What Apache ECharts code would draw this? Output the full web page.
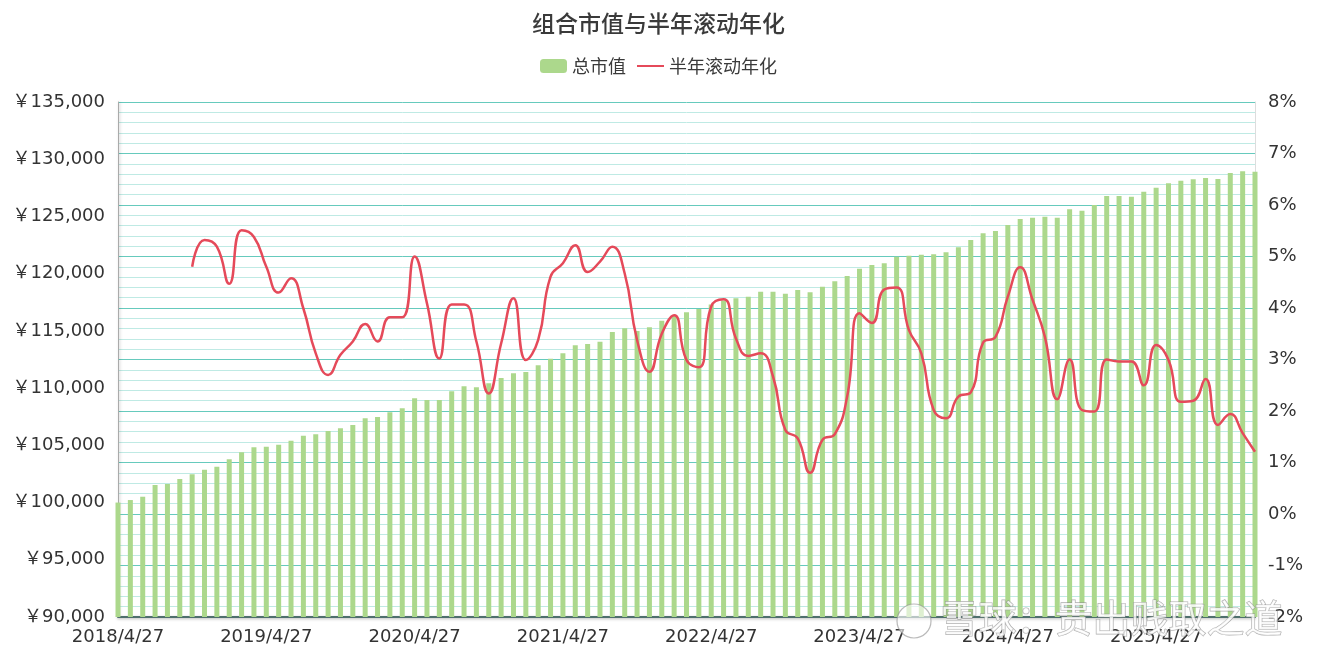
<!DOCTYPE html>
<html>
<head>
<meta charset="utf-8">
<script src="https://cdn.jsdelivr.net/npm/echarts@6/dist/echarts.min.js"></script>
<style>html,body{margin:0;padding:0;background:#fff;}#c{width:1317px;height:664px;}</style>
</head>
<body>
<div id="c"></div>
<script>
const categories = [
"2018/4/27","2018/5/27","2018/6/27","2018/7/27","2018/8/27","2018/9/27","2018/10/27","2018/11/27","2018/12/27",
"2019/1/27","2019/2/27","2019/3/27","2019/4/27","2019/5/27","2019/6/27","2019/7/27","2019/8/27","2019/9/27","2019/10/27","2019/11/27","2019/12/27",
"2020/1/27","2020/2/27","2020/3/27","2020/4/27","2020/5/27","2020/6/27","2020/7/27","2020/8/27","2020/9/27","2020/10/27","2020/11/27","2020/12/27",
"2021/1/27","2021/2/27","2021/3/27","2021/4/27","2021/5/27","2021/6/27","2021/7/27","2021/8/27","2021/9/27","2021/10/27","2021/11/27","2021/12/27",
"2022/1/27","2022/2/27","2022/3/27","2022/4/27","2022/5/27","2022/6/27","2022/7/27","2022/8/27","2022/9/27","2022/10/27","2022/11/27","2022/12/27",
"2023/1/27","2023/2/27","2023/3/27","2023/4/27","2023/5/27","2023/6/27","2023/7/27","2023/8/27","2023/9/27","2023/10/27","2023/11/27","2023/12/27",
"2024/1/27","2024/2/27","2024/3/27","2024/4/27","2024/5/27","2024/6/27","2024/7/27","2024/8/27","2024/9/27","2024/10/27","2024/11/27","2024/12/27",
"2025/1/27","2025/2/27","2025/3/27","2025/4/27","2025/5/27","2025/6/27","2025/7/27","2025/8/27","2025/9/27","2025/10/27","2025/11/27","2025/12/27"
];
const totalValue = [
100000,100220,100510,101530,101620,102060,102470,102870,103130,
103780,104390,104830,104880,105060,105400,105840,105970,106250,106490,106780,107360,
107480,107890,108240,109110,108960,108960,109720,110160,110070,110420,110880,111290,
111410,111990,112570,113040,113740,113860,114060,114900,115230,114990,115310,115890,
116300,116630,116910,117300,117650,117850,117990,118430,118430,118250,118570,118370,
118860,119330,119800,120440,120760,120910,121480,121570,121660,121690,121870,122310,
122940,123530,123730,124250,124780,124890,124980,124890,125620,125500,126000,126790,
126790,126730,127160,127510,127900,128120,128250,128360,128270,128800,128950,128910
];
const rollingAnnual = [
null,null,null,null,null,null,4.80,5.32,5.19,
4.47,5.51,5.38,4.80,4.30,4.58,3.99,3.12,2.70,3.09,3.35,3.69,
3.35,3.82,3.82,5.00,4.09,3.02,4.07,4.07,3.35,2.34,3.31,4.19,
2.99,3.38,4.61,4.87,5.22,4.70,4.90,5.19,4.67,3.38,2.76,3.50,
3.86,2.99,2.85,4.03,4.17,3.41,3.07,3.12,2.67,1.63,1.47,0.80,
1.44,1.55,2.28,3.90,3.71,4.36,4.40,3.57,3.12,2.02,1.86,2.28,
2.36,3.33,3.44,4.22,4.79,4.16,3.44,2.23,3.00,2.02,1.99,3.00,
2.96,2.96,2.50,3.28,2.99,2.18,2.20,2.62,1.73,1.94,1.57,1.21
];
const seriesNames = ["总市值","半年滚动年化"];
const titleText = "组合市值与半年滚动年化";
const watermarkText = "雪球：贵出贱取之道";

const numFont = "'DejaVu Sans', 'Noto Sans CJK SC', sans-serif";
const cjkFont = "'Noto Sans CJK SC', sans-serif";

const chart = echarts.init(document.getElementById('c'), null, {renderer:'canvas'});
chart.setOption({
  animation:false,
  backgroundColor:'#fff',
  title:{
    text:titleText, left:'center', top:7,
    textStyle:{fontFamily:cjkFont, fontSize:23, fontWeight:500, color:'#3a3a3a'}
  },
  legend:{
    top:52, left:'center', itemWidth:27, itemHeight:14, itemGap:10,
    textStyle:{fontFamily:cjkFont, fontSize:18, color:'#3a3a3a'},
    data:[
      {name:seriesNames[0]},
      {name:seriesNames[1], itemStyle:{opacity:0, color:'transparent', borderWidth:0}}
    ]
  },
  grid:{left:118, right:62, top:102, bottom:47, containLabel:false},
  xAxis:{
    type:'category', data:categories, boundaryGap:false,
    axisLine:{onZero:false, lineStyle:{color:'#4f6f6d', width:2, shadowColor:'rgba(0,0,0,0.3)', shadowBlur:3, shadowOffsetY:1}},
    axisTick:{show:false},
    axisLabel:{interval:11, fontFamily:numFont, fontSize:18, color:'#333', margin:11},
    splitLine:{show:false}
  },
  yAxis:[
    {
      type:'value', min:90000, max:135000, interval:5000, position:'left',
      axisLine:{show:true, lineStyle:{color:'#aaa', width:1, shadowColor:'rgba(0,0,0,0.25)', shadowBlur:3, shadowOffsetX:1}},
      axisTick:{show:false},
      axisLabel:{fontFamily:numFont, fontSize:18, color:'#333', margin:13,
        formatter:function(v){return '￥' + v.toLocaleString('en-US');}},
      splitLine:{show:false}
    },
    {
      type:'value', min:-2, max:8, interval:1, position:'right',
      axisLine:{show:true, lineStyle:{color:'#ddd', width:1}},
      axisTick:{show:false},
      axisLabel:{fontFamily:numFont, fontSize:18, color:'#333', margin:13, formatter:'{value}%'},
      splitLine:{show:true, lineStyle:{color:'#66cabd', width:1}},
      minorTick:{show:false, splitNumber:5},
      minorSplitLine:{show:true, lineStyle:{color:'#bfeae4', width:1}}
    }
  ],
  series:[
    {
      name:seriesNames[0], type:'bar', data:totalValue, yAxisIndex:0,
      barWidth:5, itemStyle:{color:'#acd88c'}, z:2
    },
    {
      name:seriesNames[1], type:'line', data:rollingAnnual, yAxisIndex:1,
      smooth:0.5, symbol:'none', lineStyle:{color:'#e54a5a', width:2.5},
      itemStyle:{color:'#e54a5a'}, z:3
    }
  ],
  graphic:[
    {
      type:'circle', shape:{cx:914, cy:621, r:17}, z:100, silent:true,
      style:{fill:'rgba(255,255,255,0.6)', stroke:'rgba(140,140,140,0.6)', lineWidth:1.2}
    },
    {
      type:'text', left:940, top:598, z:100, silent:true,
      style:{text:watermarkText, font:"38px 'Noto Sans CJK SC'", fill:'rgba(255,255,255,0.8)',
        stroke:'rgba(140,140,140,0.7)', lineWidth:1.2}
    }
  ]
});
</script>
</body>
</html>
